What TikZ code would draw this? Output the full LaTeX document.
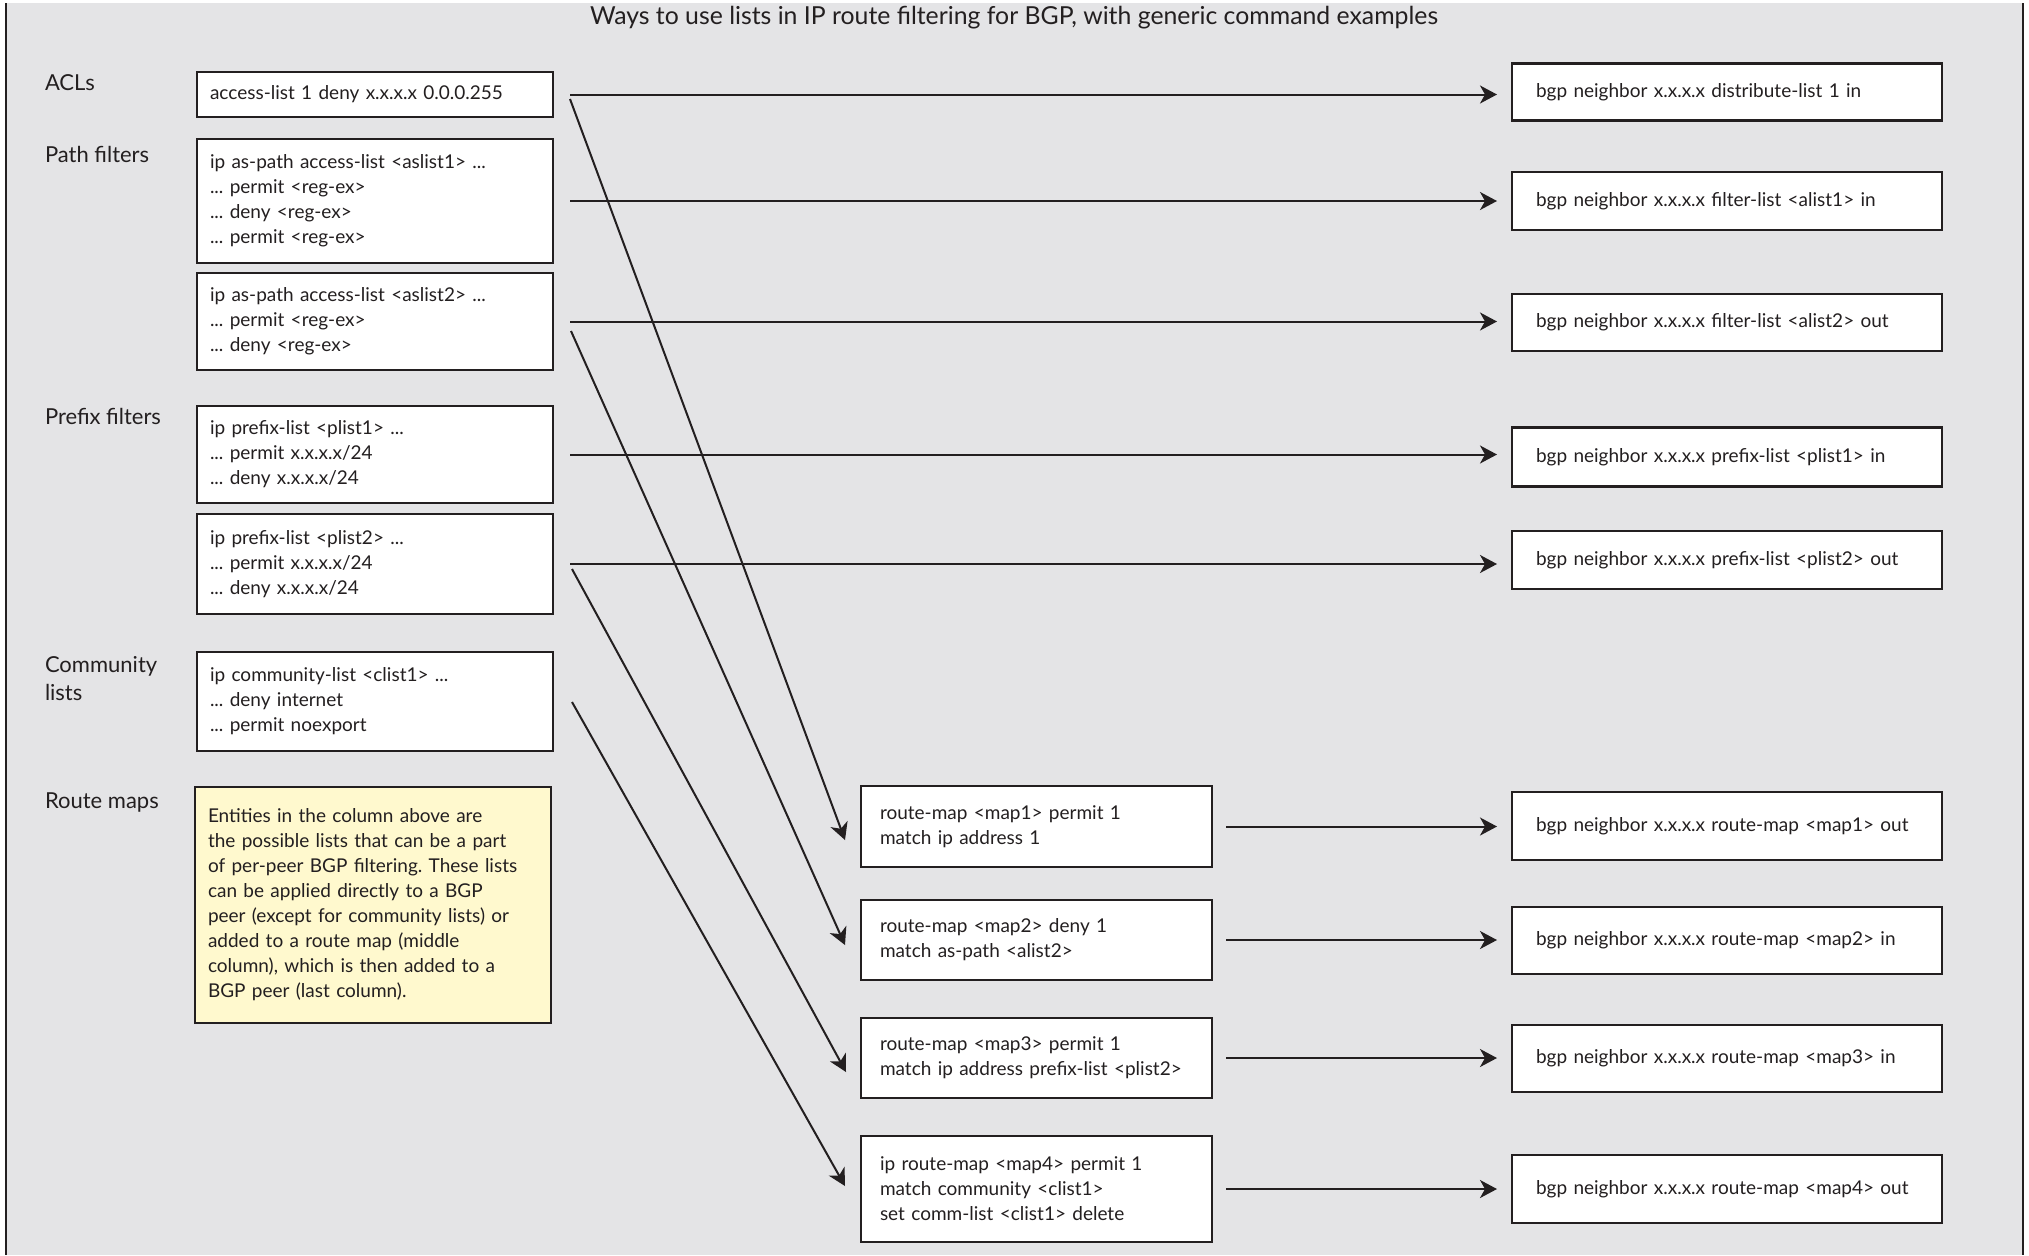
\documentclass[tikz,border=0pt]{standalone}
\usepackage{fontspec}
\setmainfont{Lato}
\usetikzlibrary{arrows.meta,calc}
\definecolor{bggray}{RGB}{228,228,230}
\definecolor{notefill}{RGB}{255,249,206}
\definecolor{ink}{RGB}{35,31,32}
\frenchspacing

\begin{document}
\begin{tikzpicture}[x=0.5pt,y=-0.5pt,
	every node/.style={text=ink,outer sep=0pt},
	listbox/.style={draw=ink,line width=1.3pt,fill=white,align=left,font=\fontsize{9.5}{12.5}\selectfont},
	leftbox/.style={listbox,minimum width=178pt,text width=165pt,inner xsep=6.5pt},
	midbox/.style={listbox,minimum width=175.5pt,text width=156.5pt,inner xsep=9.5pt},
	peerbox/.style={listbox,minimum width=215pt,text width=191pt,inner xsep=12pt},
	rowlabel/.style={anchor=west,align=left,inner xsep=0pt,font=\fontsize{11}{14}\selectfont},
	link/.style={draw=ink,line width=1pt,-{Stealth[length=8.5pt,width=9pt,inset=2.5pt]}}]
	\useasboundingbox (0,0) rectangle (2029,1255);
	\fill[bggray] (6,3) rectangle (2023,1255);
	\draw[ink,line width=0.6pt] (6,3) -- (6,1255) (2023,3) -- (2023,1255);

	\node[font=\fontsize{12.4}{14}\selectfont] (title) at (1014,18) {Ways to use lists in IP route filtering for BGP, with generic command examples};

	\node[rowlabel] (lacl) at (45,83) {ACLs};
	\node[rowlabel] (lpath) at (45,154) {Path filters};
	\node[rowlabel] (lprefix) at (45,416) {Prefix filters};
	\node[rowlabel] (lcomm) at (45,679) {Community\\lists};
	\node[rowlabel] (lroute) at (45,802) {Route maps};

	\node[leftbox,minimum height=22.5pt] (acl) at (375,94.5) {access-list 1 deny x.x.x.x 0.0.0.255};
	\node[leftbox,minimum height=62pt] (path1) at (375,201) {ip as-path access-list <aslist1> ...\\... permit <reg-ex>\\... deny <reg-ex>\\... permit <reg-ex>};
	\node[leftbox,minimum height=48.5pt] (path2) at (375,321.5) {ip as-path access-list <aslist2> ...\\... permit <reg-ex>\\... deny <reg-ex>};
	\node[leftbox,minimum height=48.5pt] (pre1) at (375,454.5) {ip prefix-list <plist1> ...\\... permit x.x.x.x/24\\... deny x.x.x.x/24};
	\node[leftbox,minimum height=50pt] (pre2) at (375,564) {ip prefix-list <plist2> ...\\... permit x.x.x.x/24\\... deny x.x.x.x/24};
	\node[leftbox,minimum height=49.5pt] (comm) at (375,701.5) {ip community-list <clist1> ...\\... deny internet\\... permit noexport};
	\node[leftbox,fill=notefill,minimum height=118pt] (note) at (373,905) {Entities in the column above are\\the possible lists that can be a part\\of per-peer BGP filtering. These lists\\can be applied directly to a BGP\\peer (except for community lists) or\\added to a route map (middle\\column), which is then added to a\\BGP peer (last column).};

	\node[midbox,minimum height=40.5pt] (m1) at (1036.5,826.5) {route-map <map1> permit 1\\match ip address 1};
	\node[midbox,minimum height=40pt] (m2) at (1036.5,940) {route-map <map2> deny 1\\match as-path <alist2>};
	\node[midbox,minimum height=40pt] (m3) at (1036.5,1058) {route-map <map3> permit 1\\match ip address prefix-list <plist2>};
	\node[midbox,minimum height=53pt] (m4) at (1036.5,1189) {ip route-map <map4> permit 1\\match community <clist1>\\set comm-list <clist1> delete};

	\node[peerbox,minimum height=28.5pt] (r1) at (1727,92) {bgp neighbor x.x.x.x distribute-list 1 in};
	\node[peerbox,minimum height=29pt] (r2) at (1727,201) {bgp neighbor x.x.x.x filter-list <alist1> in};
	\node[peerbox,minimum height=28.5pt] (r3) at (1727,322.5) {bgp neighbor x.x.x.x filter-list <alist2> out};
	\node[peerbox,minimum height=29.5pt] (r4) at (1727,457) {bgp neighbor x.x.x.x prefix-list <plist1> in};
	\node[peerbox,minimum height=29pt] (r5) at (1727,560) {bgp neighbor x.x.x.x prefix-list <plist2> out};
	\node[peerbox,minimum height=34pt] (r6) at (1727,826) {bgp neighbor x.x.x.x route-map <map1> out};
	\node[peerbox,minimum height=33.5pt] (r7) at (1727,940.5) {bgp neighbor x.x.x.x route-map <map2> in};
	\node[peerbox,minimum height=33.5pt] (r8) at (1727,1058.5) {bgp neighbor x.x.x.x route-map <map3> in};
	\node[peerbox,minimum height=34pt] (r9) at (1727,1189) {bgp neighbor x.x.x.x route-map <map4> out};

	\draw[link,shorten <=8.5pt,shorten >=7.5pt] (acl.east) -- (acl.east -| r1.west);
	\draw[link,shorten <=8.5pt,shorten >=7.5pt] (path1.east) -- (path1.east -| r2.west);
	\draw[link,shorten <=8.5pt,shorten >=7.5pt] (path2.east) -- (path2.east -| r3.west);
	\draw[link,shorten <=8.5pt,shorten >=7.5pt] (pre1.east) -- (pre1.east -| r4.west);
	\draw[link,shorten <=8.5pt,shorten >=7.5pt] (pre2.east) -- (pre2.east -| r5.west);

	\draw[link] ($(acl.east)+(17,4.5)$) -- ($(m1.west)+(-16,13.5)$);
	\draw[link] ($(path2.east)+(18,9.5)$) -- ($(m2.west)+(-16,5)$);
	\draw[link] ($(pre2.east)+(19,5)$) -- ($(m3.west)+(-15,14)$);
	\draw[link] ($(comm.east)+(19,0.5)$) -- ($(m4.west)+(-16,-3)$);

	\draw[link,shorten <=7pt,shorten >=7.5pt] (m1.east) -- (m1.east -| r6.west);
	\draw[link,shorten <=7pt,shorten >=7.5pt] (m2.east) -- (m2.east -| r7.west);
	\draw[link,shorten <=7pt,shorten >=7.5pt] (m3.east) -- (m3.east -| r8.west);
	\draw[link,shorten <=7pt,shorten >=7.5pt] (m4.east) -- (m4.east -| r9.west);
\end{tikzpicture}
\end{document}
